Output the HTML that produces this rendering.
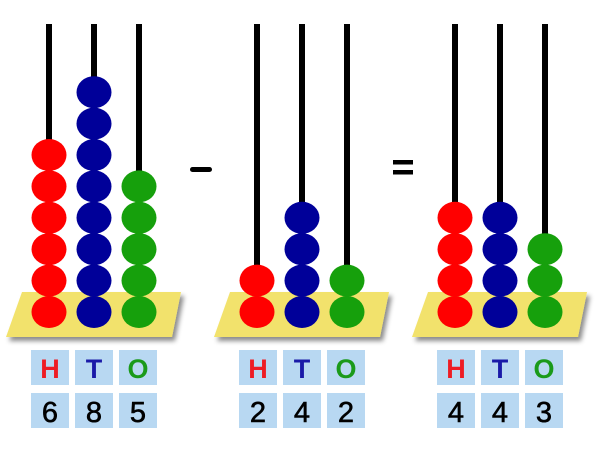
<!DOCTYPE html>
<html><head><style>
html,body{margin:0;padding:0;background:#fff;}
svg{display:block;}
text{font-family:"Liberation Sans",sans-serif;}
</style></head><body>
<svg width="600" height="450" viewBox="0 0 600 450" xmlns="http://www.w3.org/2000/svg">
<defs>
<filter id="sh" x="-10%" y="-20%" width="130%" height="160%"><feDropShadow dx="3" dy="4" stdDeviation="2.5" flood-color="#000" flood-opacity="0.45"/></filter>
<g id="plat"><polygon points="22,292 181,292 172,337 6,337" fill="#f2e26c" filter="url(#sh)"/></g>
<g id="labels">
<rect x="31" y="350" width="38" height="35" fill="#b8d8f2"/>
<rect x="75" y="350" width="38" height="35" fill="#b8d8f2"/>
<rect x="119" y="350" width="38" height="35" fill="#b8d8f2"/>
<rect x="31" y="393" width="38" height="35" fill="#b8d8f2"/>
<rect x="75" y="393" width="38" height="35" fill="#b8d8f2"/>
<rect x="119" y="393" width="38" height="35" fill="#b8d8f2"/>
<text x="50" y="378" font-size="27" font-weight="bold" text-anchor="middle" fill="#ee1c24">H</text>
<text x="94" y="378" font-size="27" font-weight="bold" text-anchor="middle" fill="#1a1aa8">T</text>
<text x="138" y="378" font-size="27" font-weight="bold" text-anchor="middle" fill="#1a9a1a">O</text>
</g>
</defs>
<g fill="#000">
<rect x="46" y="24" width="6" height="280"/><rect x="91" y="24" width="6" height="280"/><rect x="136" y="24" width="6" height="280"/>
<rect x="254" y="24" width="6" height="280"/><rect x="299" y="24" width="6" height="280"/><rect x="344" y="24" width="6" height="280"/>
<rect x="452" y="24" width="6" height="280"/><rect x="497" y="24" width="6" height="280"/><rect x="542" y="24" width="6" height="280"/>
</g>
<use href="#plat"/>
<use href="#plat" transform="translate(208,0)"/>
<use href="#plat" transform="translate(406,0)"/>
<g>
<g fill="#ff0000">
<ellipse cx="49" cy="312" rx="17.5" ry="16"/><ellipse cx="49" cy="280.6" rx="17.5" ry="16"/><ellipse cx="49" cy="249.2" rx="17.5" ry="16"/><ellipse cx="49" cy="217.8" rx="17.5" ry="16"/><ellipse cx="49" cy="186.4" rx="17.5" ry="16"/><ellipse cx="49" cy="155" rx="17.5" ry="16"/>
</g>
<g fill="#000099">
<ellipse cx="94" cy="312" rx="17.5" ry="16"/><ellipse cx="94" cy="280.6" rx="17.5" ry="16"/><ellipse cx="94" cy="249.2" rx="17.5" ry="16"/><ellipse cx="94" cy="217.8" rx="17.5" ry="16"/><ellipse cx="94" cy="186.4" rx="17.5" ry="16"/><ellipse cx="94" cy="155" rx="17.5" ry="16"/><ellipse cx="94" cy="123.6" rx="17.5" ry="16"/><ellipse cx="94" cy="92.2" rx="17.5" ry="16"/>
</g>
<g fill="#16a00c">
<ellipse cx="139" cy="312" rx="17.5" ry="16"/><ellipse cx="139" cy="280.6" rx="17.5" ry="16"/><ellipse cx="139" cy="249.2" rx="17.5" ry="16"/><ellipse cx="139" cy="217.8" rx="17.5" ry="16"/><ellipse cx="139" cy="186.4" rx="17.5" ry="16"/>
</g>
<g fill="#ff0000"><ellipse cx="257" cy="312" rx="17.5" ry="16"/><ellipse cx="257" cy="280.6" rx="17.5" ry="16"/></g>
<g fill="#000099"><ellipse cx="302" cy="312" rx="17.5" ry="16"/><ellipse cx="302" cy="280.6" rx="17.5" ry="16"/><ellipse cx="302" cy="249.2" rx="17.5" ry="16"/><ellipse cx="302" cy="217.8" rx="17.5" ry="16"/></g>
<g fill="#16a00c"><ellipse cx="347" cy="312" rx="17.5" ry="16"/><ellipse cx="347" cy="280.6" rx="17.5" ry="16"/></g>
<g fill="#ff0000"><ellipse cx="455" cy="312" rx="17.5" ry="16"/><ellipse cx="455" cy="280.6" rx="17.5" ry="16"/><ellipse cx="455" cy="249.2" rx="17.5" ry="16"/><ellipse cx="455" cy="217.8" rx="17.5" ry="16"/></g>
<g fill="#000099"><ellipse cx="500" cy="312" rx="17.5" ry="16"/><ellipse cx="500" cy="280.6" rx="17.5" ry="16"/><ellipse cx="500" cy="249.2" rx="17.5" ry="16"/><ellipse cx="500" cy="217.8" rx="17.5" ry="16"/></g>
<g fill="#16a00c"><ellipse cx="545" cy="312" rx="17.5" ry="16"/><ellipse cx="545" cy="280.6" rx="17.5" ry="16"/><ellipse cx="545" cy="249.2" rx="17.5" ry="16"/></g>
</g>
<rect x="190" y="167" width="22" height="5" rx="2.5" fill="#000"/>
<rect x="393" y="160" width="20" height="4.5" fill="#000"/>
<rect x="393" y="170" width="20" height="4.5" fill="#000"/>
<use href="#labels"/>
<use href="#labels" transform="translate(208,0)"/>
<use href="#labels" transform="translate(406,0)"/>
<g font-size="29" text-anchor="middle" fill="#000" stroke="#000" stroke-width="0.6">
<text x="50" y="422">6</text><text x="94" y="422">8</text><text x="138" y="422">5</text>
<text x="258" y="422">2</text><text x="302" y="422">4</text><text x="346" y="422">2</text>
<text x="456" y="422">4</text><text x="500" y="422">4</text><text x="544" y="422">3</text>
</g>
</svg>
</body></html>
